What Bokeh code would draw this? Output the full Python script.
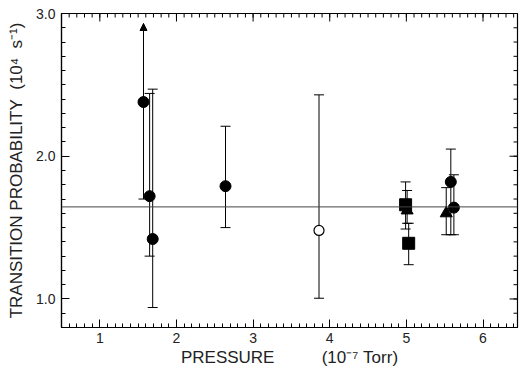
import numpy as np
from bokeh.plotting import figure
from bokeh.models import (ColumnDataSource, Whisker, TeeHead, NormalHead, Span,
                          FixedTicker, Range1d, CustomJSTickFormatter)
from bokeh.embed import file_html
from bokeh.resources import INLINE

# ---- data ----
fc_x = [1.57, 1.65, 1.69, 2.64, 5.58, 5.62]
fc_y = [2.38, 1.72, 1.42, 1.79, 1.82, 1.64]
fc_lo = [1.70, 1.30, 0.94, 1.50, 1.45, 1.45]
fc_hi = [2.93, 2.44, 2.47, 2.21, 2.05, 1.87]
fc_arrow = [True, False, False, False, False, False]

oc_x = [3.86]
oc_y = [1.48]
oc_lo = [1.005]
oc_hi = [2.43]

sq_x = [4.99, 5.03]
sq_y = [1.66, 1.39]
sq_lo = [1.49, 1.24]
sq_hi = [1.82, 1.53]

tr_x = [5.01, 5.52]
tr_y = [1.62, 1.60]
tr_lo = [1.53, 1.45]
tr_hi = [1.76, 1.78]

mean_value = 1.645

x_ticks = [1, 2, 3, 4, 5, 6]
y_ticks = [1.0, 2.0, 3.0]
X_START, X_END = 0.5, 6.45
Y_START, Y_END = 0.8, 3.0

FONT = "Liberation Sans"

p = figure(width=521, height=373, output_backend="svg", toolbar_location=None,
           x_range=Range1d(X_START, X_END), y_range=Range1d(Y_START, Y_END),
           min_border_left=61, min_border_top=13, min_border_bottom=46,
           min_border_right=4)
p.background_fill_color = "white"
p.border_fill_color = "white"
p.outline_line_color = "black"
p.outline_line_width = 1.2
p.xgrid.visible = False
p.ygrid.visible = False

x_minor = [round(v, 2) for v in np.arange(0.5, 6.46, 0.1)]
y_minor = [round(v, 2) for v in np.arange(0.8, 3.01, 0.1)]
xt = FixedTicker(ticks=x_ticks, minor_ticks=x_minor)
yt = FixedTicker(ticks=y_ticks, minor_ticks=y_minor)

for ax, ticker in ((p.xaxis[0], xt), (p.yaxis[0], yt)):
    ax.ticker = ticker
    ax.axis_line_color = "black"
    ax.axis_line_width = 1.2
    ax.major_tick_in = 8
    ax.major_tick_out = 0
    ax.minor_tick_in = 4
    ax.minor_tick_out = 0
    ax.major_tick_line_color = "black"
    ax.minor_tick_line_color = "black"
    ax.major_label_text_font = FONT
    ax.major_label_text_font_size = "14px"
    ax.major_label_text_color = "#222222"
    ax.axis_label_text_font = FONT
    ax.axis_label_text_font_style = "normal"
    ax.axis_label_text_color = "#222222"

p.xaxis[0].major_label_standoff = 5
p.yaxis[0].major_label_standoff = 6
p.yaxis[0].formatter = CustomJSTickFormatter(code="return tick.toFixed(1);")

p.xaxis[0].axis_label = ("PRESSURE" + "\u00a0" * 10 + "(10\u207b\u2077\u00a0Torr)")
p.yaxis[0].axis_label = ("TRANSITION PROBABILITY\u00a0\u00a0(10\u2074\u00a0\u00a0s\u207b\u00b9)")
p.xaxis[0].axis_label_text_font_size = "17px"
p.yaxis[0].axis_label_text_font_size = "17px"
p.xaxis[0].axis_label_standoff = 2
p.yaxis[0].axis_label_standoff = 7

# ticks on the top and right edges of the frame
p.ray(x=x_ticks, y=Y_END, length=8, angle=-np.pi / 2, length_units="screen",
      line_color="black", line_width=1)
p.ray(x=x_minor, y=Y_END, length=4, angle=-np.pi / 2, length_units="screen",
      line_color="black", line_width=1)
p.ray(x=X_END, y=y_ticks, length=8, angle=np.pi, length_units="screen",
      line_color="black", line_width=1)
p.ray(x=X_END, y=y_minor, length=4, angle=np.pi, length_units="screen",
      line_color="black", line_width=1)

# mean line
p.add_layout(Span(location=mean_value, dimension="width", line_color="#444444",
                  line_width=1))

# error bars
def whiskers(xs, lo, hi, arrow_flags=None):
    if arrow_flags is None:
        arrow_flags = [False] * len(xs)
    normal = ColumnDataSource(dict(
        x=[a for a, f in zip(xs, arrow_flags) if not f],
        lo=[a for a, f in zip(lo, arrow_flags) if not f],
        hi=[a for a, f in zip(hi, arrow_flags) if not f]))
    w = Whisker(source=normal, base="x", lower="lo", upper="hi",
                dimension="height", line_color="black", line_width=1,
                upper_head=TeeHead(size=10, line_color="black", line_width=1),
                lower_head=TeeHead(size=10, line_color="black", line_width=1))
    p.add_layout(w)
    if any(arrow_flags):
        arr = ColumnDataSource(dict(
            x=[a for a, f in zip(xs, arrow_flags) if f],
            lo=[a for a, f in zip(lo, arrow_flags) if f],
            hi=[a for a, f in zip(hi, arrow_flags) if f]))
        w2 = Whisker(source=arr, base="x", lower="lo", upper="hi",
                     dimension="height", line_color="black", line_width=1,
                     upper_head=NormalHead(size=7, fill_color="black",
                                           line_color="black"),
                     lower_head=TeeHead(size=10, line_color="black", line_width=1))
        p.add_layout(w2)

whiskers(fc_x, fc_lo, fc_hi, fc_arrow)
whiskers(oc_x, oc_lo, oc_hi)
whiskers(sq_x, sq_lo, sq_hi)
whiskers(tr_x, tr_lo, tr_hi)

# markers
p.scatter(fc_x, fc_y, marker="circle", size=11, fill_color="black",
          line_color="black")
p.scatter(oc_x, oc_y, marker="circle", size=10, fill_color="white",
          line_color="black", line_width=1.2)
p.scatter(sq_x, sq_y, marker="square", size=12, fill_color="black",
          line_color="black")
p.scatter(tr_x, tr_y, marker="triangle", size=12, fill_color="black",
          line_color="black")

open("out.html", "w").write(file_html(p, INLINE))
